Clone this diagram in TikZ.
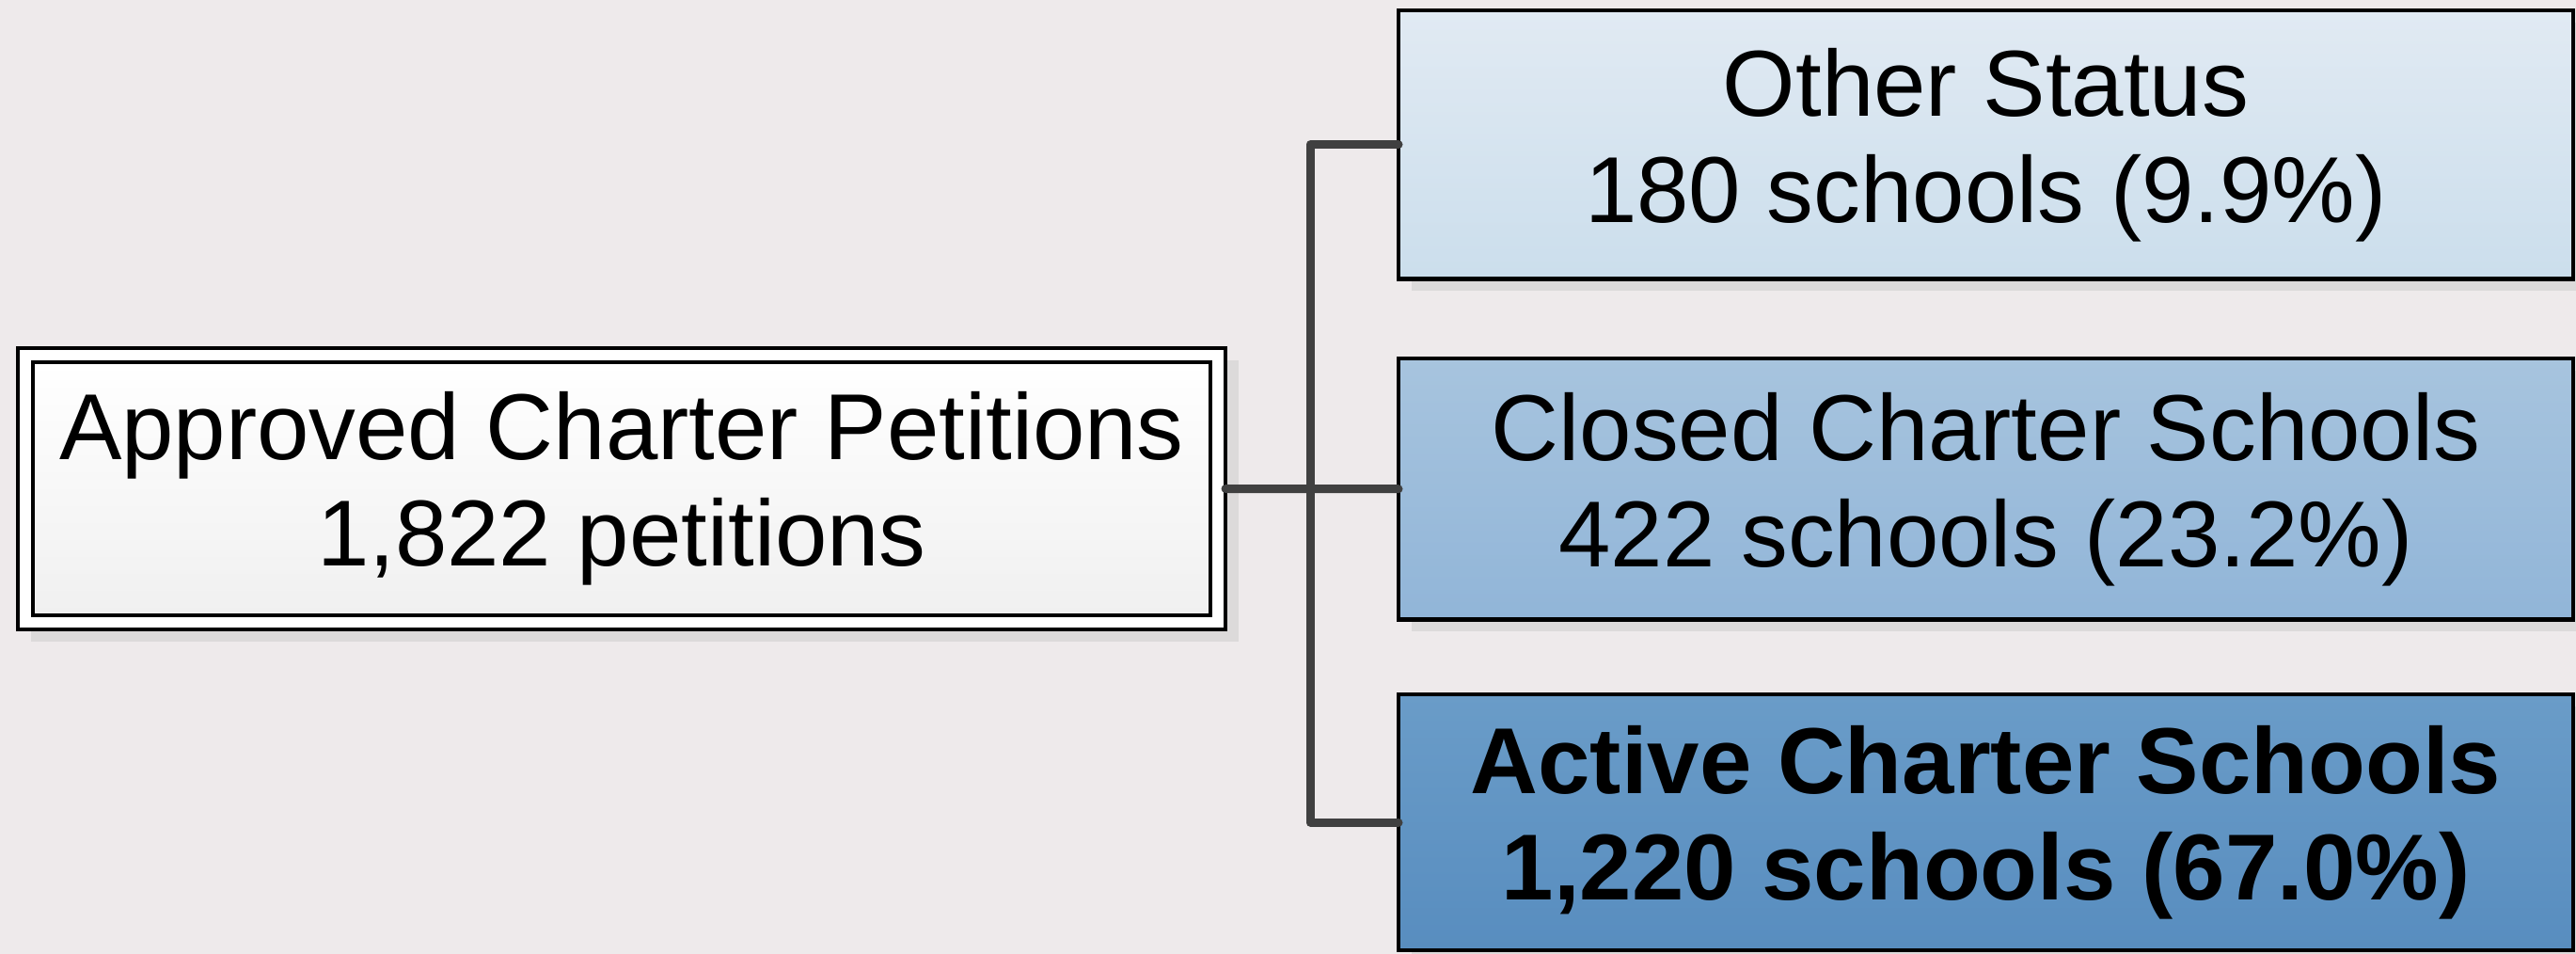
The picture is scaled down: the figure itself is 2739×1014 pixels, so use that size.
\documentclass[tikz,border=0pt]{standalone}
\usepackage{tikz}
\usepackage{fontspec}
\setmainfont{Liberation Sans}
\usetikzlibrary{shadows}

\definecolor{bggray}{RGB}{238,234,235}
\definecolor{shadowgray}{RGB}{220,218,218}
\definecolor{linkgray}{RGB}{64,64,64}
\definecolor{othertop}{RGB}{225,234,243}
\definecolor{otherbot}{RGB}{203,222,236}
\definecolor{closedtop}{RGB}{167,196,222}
\definecolor{closedbot}{RGB}{145,181,216}
\definecolor{activetop}{RGB}{106,156,200}
\definecolor{activebot}{RGB}{88,141,191}
\definecolor{petbot}{RGB}{240,240,240}

\begin{document}
\begin{tikzpicture}[x=0.25pt,y=-0.25pt,
    box/.style={rectangle,draw,line width=1.1pt,outer sep=0pt,inner sep=2pt,align=center,
      font={\fontsize{24.9}{28.25}\selectfont}},
    shadowed/.style={drop shadow={shadow xshift=3.5pt,shadow yshift=-3.25pt,fill=shadowgray,opacity=1}},
    link/.style={draw=linkgray,line width=2.25pt,line cap=round,line join=round}]

      \useasboundingbox (0,0) rectangle (2739,1014);
      \clip (0,0) rectangle (2739,1014);
      \fill[bggray] (0,0) rectangle (2739,1014);

      \begin{scope}[every node/.style={box}]
        \node[shadowed,fill=white,minimum width=321pt,minimum height=74.75pt] (petitions) at (661,519.5) {};
        \node[top color=white,bottom color=petbot,minimum width=313pt,minimum height=67.25pt] (petitionstext) at (661,519.5)
          {Approved Charter Petitions\\1,822 petitions};
        \node[shadowed,top color=othertop,bottom color=otherbot,minimum width=312.25pt,minimum height=71.375pt] (other) at (2111.5,153.75)
          {Other Status\\180 schools (9.9\%)};
        \node[shadowed,top color=closedtop,bottom color=closedbot,minimum width=312.25pt,minimum height=69.375pt] (closed) at (2111.5,519.75)
          {Closed Charter Schools\\422 schools (23.2\%)};
        \node[shadowed,top color=activetop,bottom color=activebot,minimum width=312.25pt,minimum height=68pt,font={\fontsize{24.9}{28.25}\selectfont\bfseries}] (active) at (2111.5,874)
          {Active Charter Schools\\1,220 schools (67.0\%)};
      \end{scope}

      \coordinate (bus) at (1393,519.5);

      \path[link] (petitions.east) -- (closed.west);
      \path[link] (other.west) -- (other.west -| bus) -- (active.west -| bus) -- (active.west);

    \end{tikzpicture}
\end{document}
